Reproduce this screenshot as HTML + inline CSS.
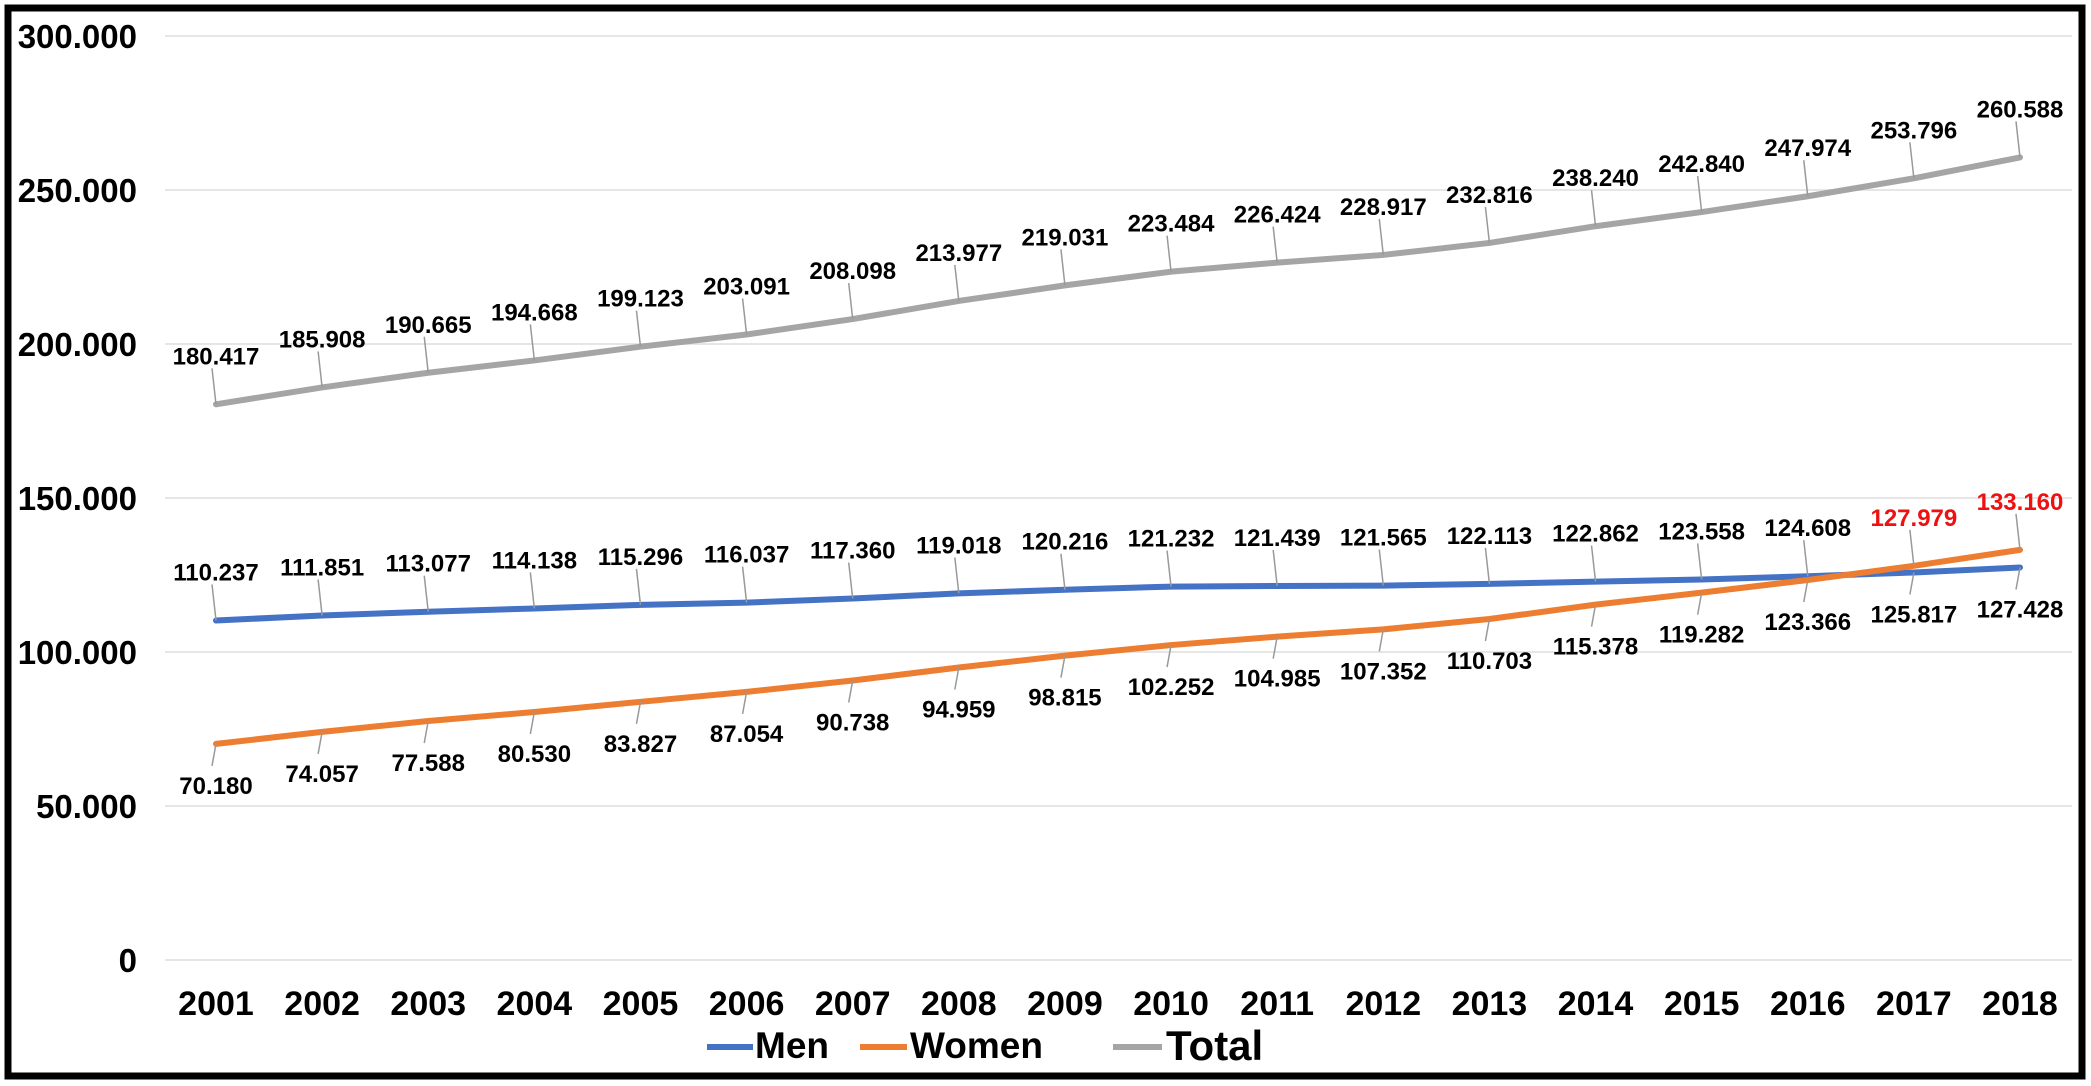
<!DOCTYPE html>
<html><head><meta charset="utf-8"><style>
html,body{margin:0;padding:0;background:#fff;}
svg{display:block;font-family:"Liberation Sans",Arial,sans-serif;font-weight:bold;}
</style></head><body>
<svg id="chart" width="2091" height="1086" viewBox="0 0 2091 1086">
<rect x="8" y="8" width="2074" height="1068" fill="#fff" stroke="#000" stroke-width="7"/>
<g id="grid"></g><g id="yticks"></g><g id="xticks"></g><g id="series"></g><g id="labels"></g>
<g>
<line x1="707" y1="1047" x2="753" y2="1047" stroke="#4472C4" stroke-width="6"/>
<text x="755" y="1058" font-size="37">Men</text>
<line x1="860" y1="1047" x2="907" y2="1047" stroke="#ED7D31" stroke-width="6"/>
<text x="910" y="1058" font-size="37">Women</text>
<line x1="1113" y1="1047" x2="1162" y2="1047" stroke="#A5A5A5" stroke-width="6"/>
<text x="1166" y="1060" font-size="42">Total</text>
</g>
</svg>
<script>
const years = ["2001","2002","2003","2004","2005","2006","2007","2008","2009","2010","2011","2012","2013","2014","2015","2016","2017","2018"];
const men = [110237,111851,113077,114138,115296,116037,117360,119018,120216,121232,121439,121565,122113,122862,123558,124608,125817,127428];
const women = [70180,74057,77588,80530,83827,87054,90738,94959,98815,102252,104985,107352,110703,115378,119282,123366,127979,133160];
const total = [180417,185908,190665,194668,199123,203091,208098,213977,219031,223484,226424,228917,232816,238240,242840,247974,253796,260588];
const yTicks = [0,50000,100000,150000,200000,250000,300000];
const yTickLabels = ["0","50.000","100.000","150.000","200.000","250.000","300.000"];

const NS="http://www.w3.org/2000/svg";
const X0=216, X1=2020, Y0=960, Y1=36, YMAX=300000;
function x(i){return X0+i*(X1-X0)/(years.length-1);}
function y(v){return Y0-(v/YMAX)*(Y0-Y1);}
function fmt(v){const s=String(v);return s.length>3?s.slice(0,-3)+"."+s.slice(-3):s;}
function mk(tag,attrs,parent){const e=document.createElementNS(NS,tag);for(const k in attrs)e.setAttribute(k,attrs[k]);parent.appendChild(e);return e;}

const grid=document.getElementById('grid'), yt=document.getElementById('yticks'), xt=document.getElementById('xticks');
yTicks.forEach((v,i)=>{
  const l=mk('line',{x1:165,x2:2072,y1:y(v),y2:y(v),stroke:'#e6e6e6','stroke-width':2},grid);
  
  
  const t=mk('text',{x:137,y:y(v)+12,'font-size':33,'text-anchor':'end',fill:'#000'},yt);
  t.textContent=yTickLabels[i];
  
  
});
years.forEach((yr,i)=>{
  const t=mk('text',{x:x(i),y:1015,'font-size':34,'text-anchor':'middle',fill:'#000'},xt);
  t.textContent=yr;
  
  
});

const sg=document.getElementById('series'), lg=document.getElementById('labels');
function drawSeries(data,color,name,placement){
  const pts=data.map((v,i)=>x(i)+","+y(v)).join(" ");
  const p=mk('polyline',{points:pts,fill:'none',stroke:color,'stroke-width':6,'stroke-linejoin':'round','stroke-linecap':'round'},sg);
  
  
  data.forEach((v,i)=>{
    const pl=placement(i);
    const px=x(i), py=y(v);
    const off=pl.above?-40:42;
    const ty=py+off;
    const ld=mk('line',{x1:px-4,y1:pl.above?ty+4:ty-20,x2:px,y2:py,stroke:'#999','stroke-width':1.5},lg);
    
    
    const t=mk('text',{x:px,y:pl.above?ty:ty+8,'font-size':24,'text-anchor':'middle',fill:pl.red?'#ee1111':'#000'},lg);
    t.textContent=fmt(v);
    
    
  });
}
const n=years.length;
drawSeries(total,'#A5A5A5','total',i=>({above:true,red:false}));
drawSeries(men,'#4472C4','men',i=>({above:i<n-2,red:false}));
drawSeries(women,'#ED7D31','women',i=>({above:i>=n-2,red:i>=n-2}));
</script>
</body></html>
